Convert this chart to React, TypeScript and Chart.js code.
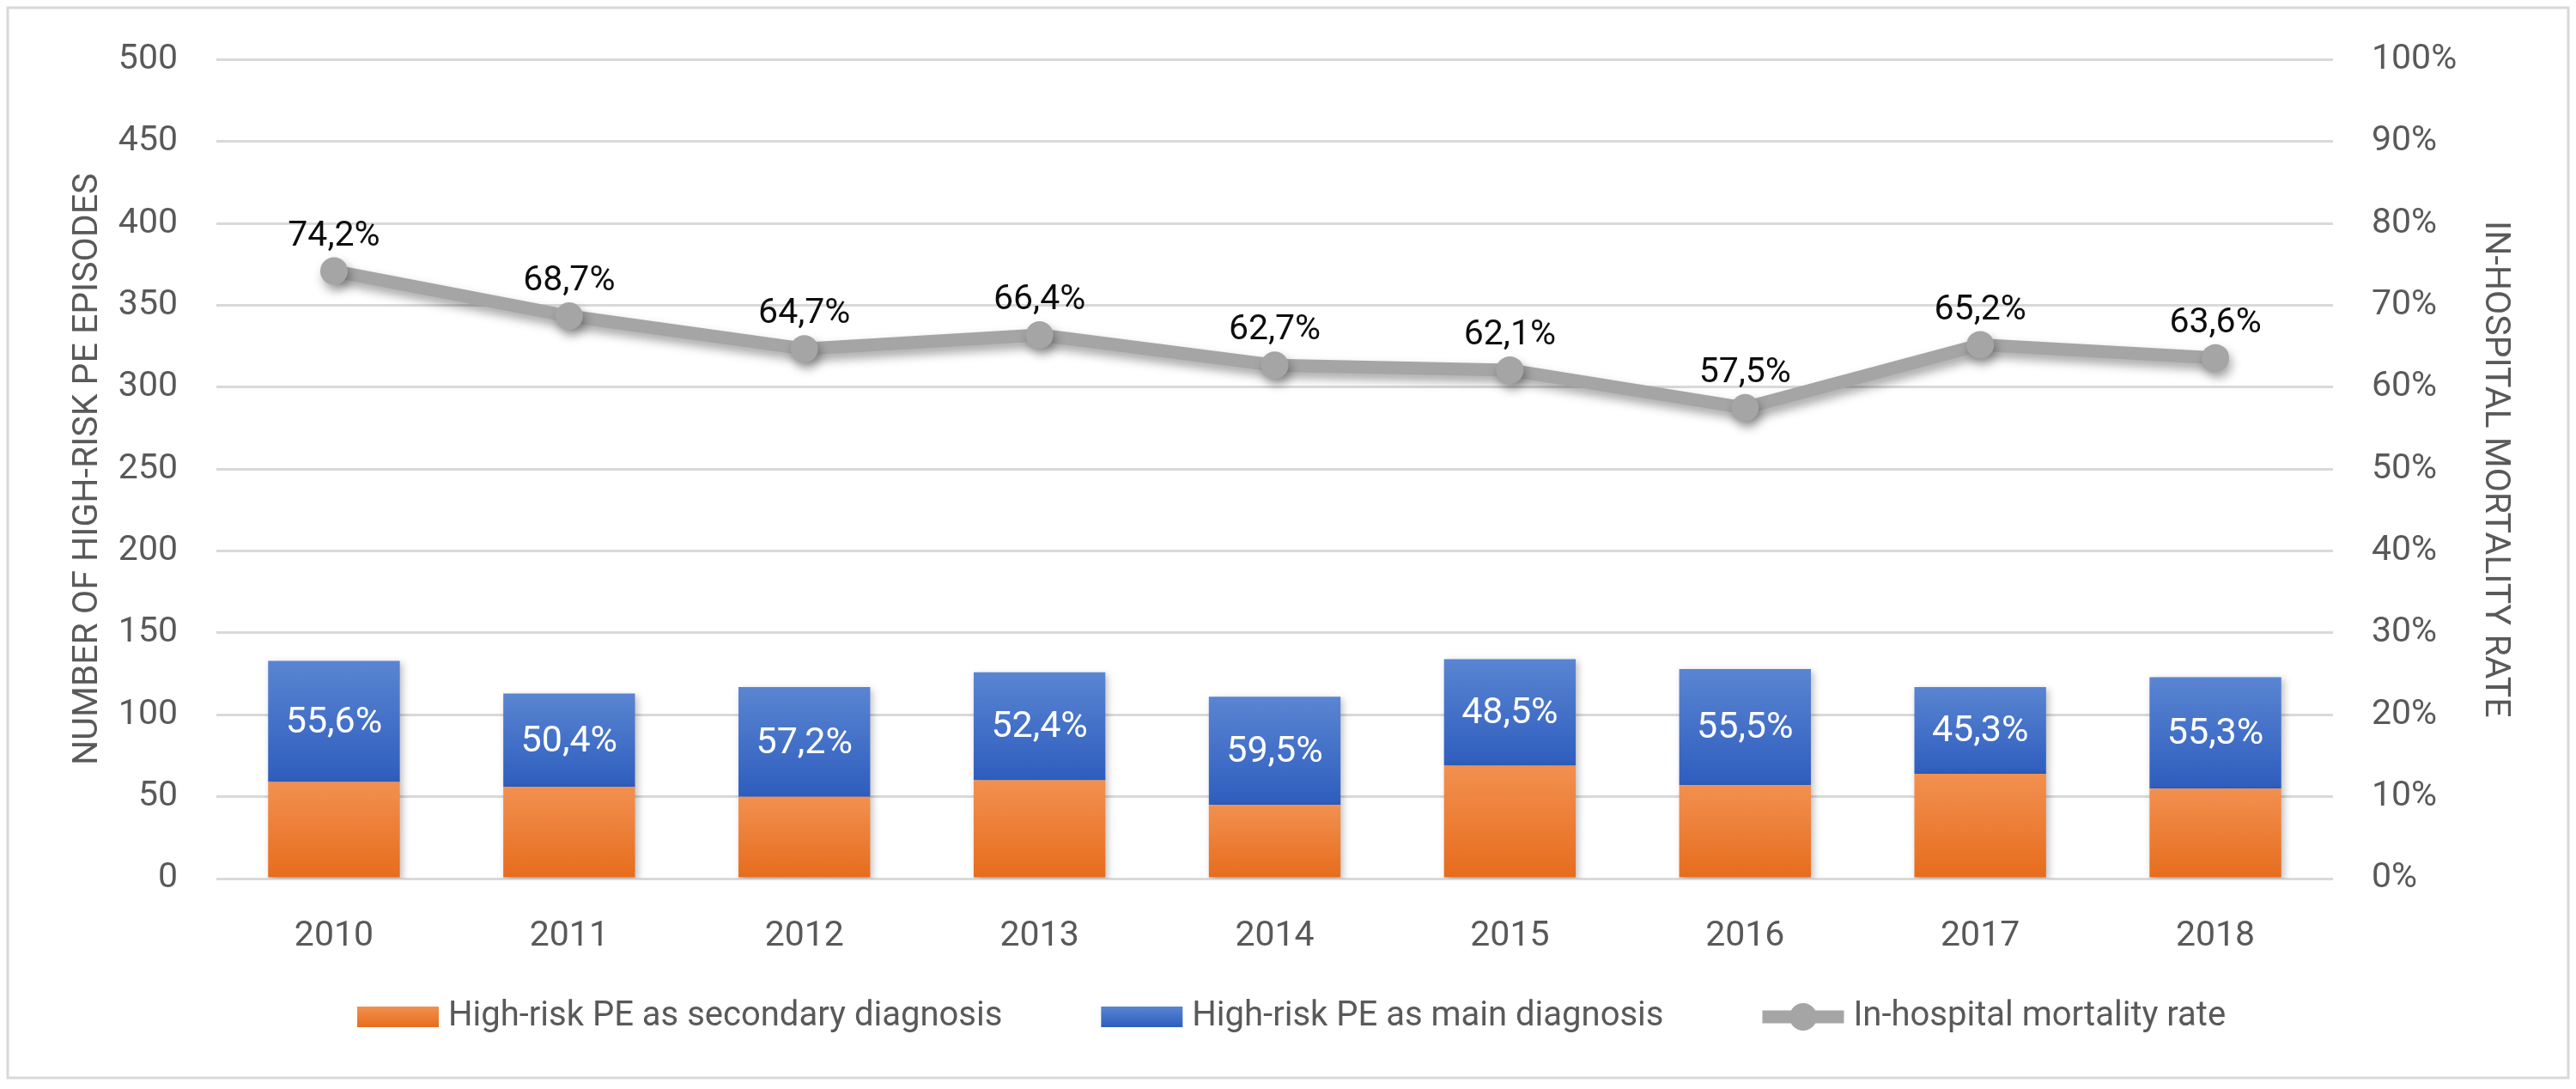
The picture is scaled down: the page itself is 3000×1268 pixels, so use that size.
import React, { useEffect, useRef } from "react";
import Chart from "chart.js/auto";

// values
const years = ["2010", "2011", "2012", "2013", "2014", "2015", "2016", "2017", "2018"];
const secondaryDx = [59, 56, 50, 60, 45, 69, 57, 64, 55];
const mainDx = [74, 57, 67, 66, 66, 65, 71, 53, 68];
const mainSharePct = [55.6, 50.4, 57.2, 52.4, 59.5, 48.5, 55.5, 45.3, 55.3];
const mortalityPct = [74.2, 68.7, 64.7, 66.4, 62.7, 62.1, 57.5, 65.2, 63.6];

const seriesNames = [
  "High-risk PE as secondary diagnosis",
  "High-risk PE as main diagnosis",
  "In-hospital mortality rate",
];

const W = 3000;
const H = 1268;
const FONT = "Roboto, 'Open Sans', sans-serif";
const GREY_TEXT = "#595959";
const ORANGE = ["#F29050", "#E66C1C"];
const BLUE = ["#5A85D2", "#2E5DBE"];
const LINE_GREY = "#A5A5A5";

const fmtPct = (v: number) => v.toFixed(1).replace(".", ",") + "%";

const grad = (ctx: CanvasRenderingContext2D, top: number, bottom: number, c: string[]) => {
  const g = ctx.createLinearGradient(0, top, 0, bottom);
  g.addColorStop(0, c[0]);
  g.addColorStop(1, c[1]);
  return g;
};

// gradient per bar segment, like the office chart
const segmentFill = (colors: string[], lower: (i: number) => number, upper: (i: number) => number) =>
  (c: any) => {
    const chart = c.chart;
    const y = chart.scales?.y;
    if (!chart.chartArea || !y || c.dataIndex === undefined) return colors[1];
    const top = y.getPixelForValue(upper(c.dataIndex));
    const bottom = y.getPixelForValue(lower(c.dataIndex));
    return grad(chart.ctx, top, bottom, colors);
  };

const frame = {
  id: "frame",
  beforeDraw(chart: any) {
    const { ctx } = chart;
    ctx.save();
    ctx.fillStyle = "#ffffff";
    ctx.fillRect(0, 0, W, H);
    ctx.strokeStyle = "#D9D9D9";
    ctx.lineWidth = 3;
    ctx.strokeRect(9, 9, W - 18, H - 13 - 9);
    ctx.restore();
  },
};

const shadows = {
  id: "shadows",
  beforeDatasetDraw(chart: any, args: any) {
    const ctx = chart.ctx;
    ctx.save();
    const isLine = args.meta.type === "line";
    ctx.shadowColor = isLine ? "rgba(0,0,0,0.35)" : "rgba(0,0,0,0.25)";
    ctx.shadowBlur = isLine ? 12 : 8;
    ctx.shadowOffsetX = 3;
    ctx.shadowOffsetY = isLine ? 7 : 3;
  },
  afterDatasetDraw(chart: any) {
    chart.ctx.restore();
  },
};

const valueLabels = {
  id: "valueLabels",
  afterDatasetsDraw(chart: any) {
    const { ctx } = chart;
    const y = chart.scales.y;
    ctx.save();
    ctx.textAlign = "center";
    ctx.textBaseline = "middle";

    const mainMeta = chart.getDatasetMeta(1);
    ctx.font = `43px ${FONT}`;
    ctx.fillStyle = "#ffffff";
    mainMeta.data.forEach((bar: any, i: number) => {
      const top = y.getPixelForValue(secondaryDx[i] + mainDx[i]);
      const bottom = y.getPixelForValue(secondaryDx[i]);
      ctx.fillText(fmtPct(mainSharePct[i]), bar.x, (top + bottom) / 2 + 2);
    });

    const lineMeta = chart.getDatasetMeta(2);
    ctx.font = `41px ${FONT}`;
    ctx.fillStyle = "#0D0D0D";
    lineMeta.data.forEach((pt: any, i: number) => {
      ctx.fillText(fmtPct(mortalityPct[i]), pt.x, pt.y - 40);
    });
    ctx.restore();
  },
};

const legend = {
  id: "officeLegend",
  afterDraw(chart: any) {
    const { ctx } = chart;
    const cy = 1184;
    const boxW = 95;
    const boxH = 24;
    ctx.save();
    ctx.font = `40px ${FONT}`;
    ctx.textBaseline = "middle";
    ctx.textAlign = "left";
    let x = 416;
    seriesNames.forEach((name, i) => {
      if (i < 2) {
        ctx.fillStyle = grad(ctx, cy - boxH / 2, cy + boxH / 2, i === 0 ? ORANGE : BLUE);
        ctx.fillRect(x, cy - boxH / 2, boxW, boxH);
      } else {
        ctx.strokeStyle = LINE_GREY;
        ctx.lineWidth = 15;
        ctx.lineCap = "butt";
        ctx.beginPath();
        ctx.moveTo(x, cy);
        ctx.lineTo(x + boxW, cy);
        ctx.stroke();
        ctx.fillStyle = LINE_GREY;
        ctx.beginPath();
        ctx.arc(x + boxW / 2, cy, 16, 0, Math.PI * 2);
        ctx.fill();
      }
      x += boxW + 11;
      ctx.fillStyle = GREY_TEXT;
      ctx.fillText(name, x, cy);
      x += ctx.measureText(name).width + 115;
    });
    ctx.restore();
  },
};

const App = () => {
  const canvasRef = useRef<HTMLCanvasElement>(null);

  useEffect(() => {
    document.body.style.margin = "0";
    const canvas = canvasRef.current as HTMLCanvasElement;

    const chart = new Chart(canvas, {
      type: "bar",
      data: {
        labels: years,
        datasets: [
          {
            type: "bar",
            label: seriesNames[0],
            data: secondaryDx,
            yAxisID: "y",
            order: 1,
            backgroundColor: segmentFill(ORANGE, () => 0, (i) => secondaryDx[i]),
            barPercentage: 0.56,
            categoryPercentage: 1,
          },
          {
            type: "bar",
            label: seriesNames[1],
            data: mainDx,
            yAxisID: "y",
            order: 1,
            backgroundColor: segmentFill(BLUE, (i) => secondaryDx[i], (i) => secondaryDx[i] + mainDx[i]),
            barPercentage: 0.56,
            categoryPercentage: 1,
          },
          {
            type: "line",
            label: seriesNames[2],
            data: mortalityPct,
            yAxisID: "y1",
            order: 0,
            borderColor: LINE_GREY,
            borderWidth: 15,
            borderJoinStyle: "round",
            tension: 0,
            pointRadius: 16,
            pointBackgroundColor: LINE_GREY,
            pointBorderWidth: 0,
          },
        ],
      } as any,
      options: {
        animation: false,
        responsive: true,
        maintainAspectRatio: false,
        devicePixelRatio: 1,
        layout: { padding: { top: 63, left: 0, right: 0, bottom: 0 } },
        plugins: {
          legend: { display: false },
          tooltip: { enabled: false },
        },
        scales: {
          x: {
            stacked: true,
            grid: { display: false },
            border: { display: false },
            ticks: { color: GREY_TEXT, font: { family: FONT, size: 41 }, padding: 35 },
            afterFit: (s: any) => { s.height = H - 1023; },
          },
          y: {
            stacked: true,
            position: "left",
            min: 0,
            max: 500,
            ticks: { stepSize: 50, color: GREY_TEXT, font: { family: FONT, size: 41 }, padding: 45 },
            grid: { color: "#D9D9D9", lineWidth: 3, drawTicks: false },
            border: { display: false },
            title: {
              display: true,
              text: "NUMBER OF HIGH-RISK PE EPISODES",
              color: GREY_TEXT,
              font: { family: FONT, size: 41 },
              padding: { top: 78, bottom: 0 },
            },
            afterFit: (s: any) => { s.width = 252; },
          },
          y1: {
            position: "right",
            min: 0,
            max: 100,
            ticks: {
              stepSize: 10,
              color: GREY_TEXT,
              font: { family: FONT, size: 41 },
              padding: 45,
              callback: (v: any) => v + "%",
            },
            grid: { display: false, drawTicks: false },
            border: { display: false },
            title: {
              display: true,
              text: "IN-HOSPITAL MORTALITY RATE",
              color: GREY_TEXT,
              font: { family: FONT, size: 41 },
              padding: { top: 70, bottom: 0 },
            },
            afterFit: (s: any) => { s.width = W - 2717; },
          },
        },
      } as any,
      plugins: [frame, shadows, valueLabels, legend],
    });

    return () => chart.destroy();
  }, []);

  return (
    <div style={{ width: W, height: H, position: "relative" }}>
      <canvas ref={canvasRef}></canvas>
    </div>
  );
};

export default App;
